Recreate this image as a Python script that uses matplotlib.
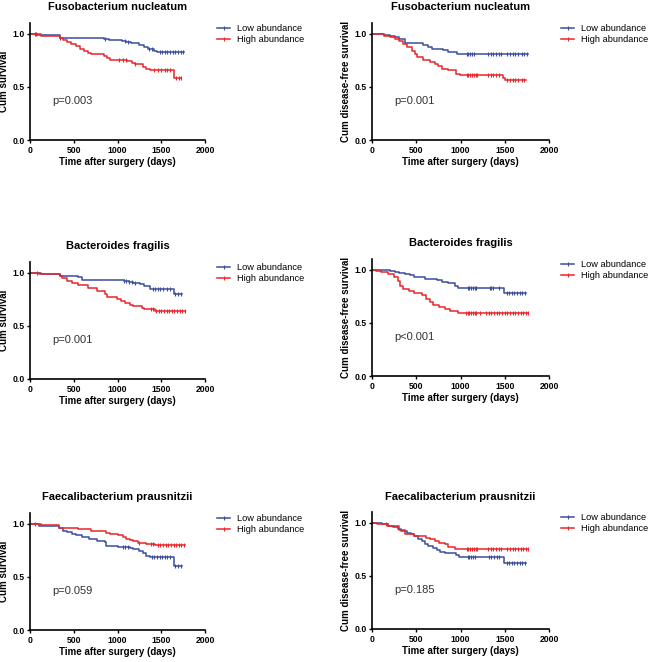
import numpy as np
import matplotlib.pyplot as plt
from matplotlib.lines import Line2D

plt.rcParams['font.family'] = ['Liberation Sans', 'DejaVu Sans']

# ---- data (time in days, survival after each event) ----
titles = ['Fusobacterium nucleatum', 'Fusobacterium nucleatum',
          'Bacteroides fragilis', 'Bacteroides fragilis',
          'Faecalibacterium prausnitzii', 'Faecalibacterium prausnitzii']
ylabels = ['Cum survival', 'Cum disease-free survival'] * 3
pvalues = ['p=0.003', 'p=0.001', 'p=0.001', 'p<0.001', 'p=0.059', 'p=0.185']
legend_labels = ['Low abundance', 'High abundance']

# Fusobacterium, overall survival
fn_os_low_t = [80, 340, 850, 900, 1050, 1100, 1150, 1250, 1300, 1350, 1420, 1450]
fn_os_low_s = [0.99, 0.955, 0.945, 0.94, 0.93, 0.92, 0.91, 0.89, 0.87, 0.855, 0.84, 0.83]
fn_os_low_c = [60, 340, 860, 1080, 1120, 1360, 1390, 1480, 1510, 1540, 1570, 1600, 1630, 1660, 1690, 1720, 1750]
fn_os_low_end = 1760
fn_os_high_t = [130, 340, 380, 420, 470, 520, 570, 620, 660, 700, 850, 880, 910, 1110, 1160, 1200, 1290, 1330, 1370, 1640]
fn_os_high_s = [0.98, 0.96, 0.94, 0.92, 0.90, 0.88, 0.86, 0.84, 0.82, 0.81, 0.79, 0.77, 0.755, 0.74, 0.72, 0.71, 0.69, 0.67, 0.655, 0.58]
fn_os_high_c = [70, 1020, 1060, 1100, 1200, 1420, 1460, 1500, 1540, 1570, 1600, 1670, 1700, 1730]
fn_os_high_end = 1730

# Fusobacterium, disease-free survival
fn_dfs_low_t = [140, 200, 260, 310, 370, 580, 630, 680, 800, 860, 960]
fn_dfs_low_s = [0.99, 0.98, 0.965, 0.95, 0.915, 0.895, 0.875, 0.86, 0.845, 0.825, 0.81]
fn_dfs_low_c = [1070, 1090, 1110, 1130, 1150, 1310, 1340, 1370, 1400, 1430, 1460, 1530, 1560, 1590, 1620, 1650, 1690, 1720, 1750]
fn_dfs_low_end = 1760
fn_dfs_high_t = [50, 140, 200, 260, 310, 350, 400, 450, 490, 510, 580, 650, 710, 750, 790, 860, 950, 990, 1480, 1500]
fn_dfs_high_s = [0.995, 0.98, 0.965, 0.95, 0.93, 0.90, 0.87, 0.84, 0.81, 0.78, 0.755, 0.73, 0.715, 0.70, 0.67, 0.66, 0.625, 0.61, 0.58, 0.56]
fn_dfs_high_c = [1070, 1090, 1110, 1130, 1150, 1170, 1190, 1310, 1340, 1370, 1400, 1430, 1530, 1560, 1590, 1620, 1650, 1690, 1720]
fn_dfs_high_end = 1740

# Bacteroides, overall survival
bf_os_low_t = [120, 340, 550, 590, 1070, 1130, 1180, 1260, 1300, 1370, 1645]
bf_os_low_s = [0.99, 0.97, 0.955, 0.935, 0.925, 0.915, 0.905, 0.89, 0.875, 0.85, 0.795]
bf_os_low_c = [80, 1070, 1100, 1130, 1160, 1200, 1400, 1430, 1460, 1490, 1520, 1560, 1600, 1660, 1690, 1720]
bf_os_low_end = 1740
bf_os_high_t = [100, 340, 365, 420, 480, 550, 660, 760, 860, 880, 990, 1040, 1080, 1140, 1180, 1280, 1300, 1430]
bf_os_high_s = [0.985, 0.97, 0.95, 0.925, 0.90, 0.88, 0.86, 0.83, 0.80, 0.77, 0.75, 0.73, 0.715, 0.70, 0.685, 0.67, 0.655, 0.635]
bf_os_high_c = [1380, 1400, 1440, 1470, 1500, 1530, 1560, 1590, 1620, 1650, 1680, 1710, 1740, 1770]
bf_os_high_end = 1770

# Bacteroides, disease-free survival
bf_dfs_low_t = [200, 260, 310, 370, 430, 480, 600, 730, 790, 860, 940, 975, 1490]
bf_dfs_low_s = [0.99, 0.98, 0.97, 0.96, 0.95, 0.93, 0.915, 0.90, 0.885, 0.87, 0.85, 0.83, 0.78]
bf_dfs_low_c = [1080, 1100, 1120, 1140, 1160, 1180, 1330, 1350, 1370, 1440, 1520, 1550, 1580, 1610, 1640, 1670, 1700, 1730]
bf_dfs_low_end = 1745
bf_dfs_high_t = [50, 100, 180, 250, 290, 320, 350, 420, 480, 560, 610, 650, 690, 760, 820, 880, 975]
bf_dfs_high_s = [0.99, 0.975, 0.955, 0.93, 0.895, 0.85, 0.82, 0.80, 0.78, 0.76, 0.725, 0.70, 0.67, 0.65, 0.63, 0.61, 0.59]
bf_dfs_high_c = [1060, 1080, 1100, 1120, 1140, 1160, 1180, 1220, 1290, 1320, 1350, 1380, 1410, 1440, 1470, 1500, 1530, 1560, 1590, 1620, 1650, 1680, 1710, 1740, 1760]
bf_dfs_high_end = 1765

# Faecalibacterium, overall survival
fp_os_low_t = [100, 330, 380, 420, 480, 530, 590, 670, 760, 860, 870, 1010, 1140, 1180, 1240, 1290, 1330, 1370, 1640]
fp_os_low_s = [0.98, 0.96, 0.935, 0.92, 0.905, 0.89, 0.87, 0.855, 0.84, 0.825, 0.79, 0.78, 0.77, 0.76, 0.745, 0.725, 0.70, 0.685, 0.60]
fp_os_low_c = [1060, 1090, 1120, 1390, 1420, 1450, 1480, 1510, 1540, 1570, 1600, 1660, 1690, 1720]
fp_os_low_end = 1740
fp_os_high_t = [120, 330, 550, 700, 870, 910, 1010, 1060, 1100, 1140, 1180, 1235, 1330, 1430]
fp_os_high_s = [0.985, 0.96, 0.95, 0.93, 0.915, 0.905, 0.89, 0.875, 0.86, 0.85, 0.835, 0.82, 0.81, 0.80]
fp_os_high_c = [60, 1250, 1380, 1400, 1460, 1490, 1520, 1550, 1580, 1610, 1640, 1670, 1700, 1730, 1760]
fp_os_high_end = 1770

# Faecalibacterium, disease-free survival
fp_dfs_low_t = [50, 110, 180, 240, 290, 330, 390, 440, 480, 520, 560, 600, 630, 690, 740, 770, 820, 950, 980, 1490]
fp_dfs_low_s = [0.995, 0.985, 0.97, 0.96, 0.94, 0.925, 0.905, 0.89, 0.87, 0.85, 0.825, 0.80, 0.78, 0.76, 0.74, 0.725, 0.71, 0.695, 0.68, 0.62]
fp_dfs_low_c = [1080, 1100, 1120, 1140, 1160, 1320, 1350, 1380, 1410, 1440, 1520, 1550, 1580, 1610, 1640, 1670, 1700, 1730]
fp_dfs_low_end = 1745
fp_dfs_high_t = [60, 180, 310, 370, 470, 610, 650, 710, 760, 820, 860, 940]
fp_dfs_high_s = [0.99, 0.965, 0.93, 0.89, 0.875, 0.86, 0.845, 0.83, 0.81, 0.795, 0.77, 0.75]
fp_dfs_high_c = [160, 1070, 1090, 1110, 1130, 1150, 1170, 1190, 1310, 1340, 1370, 1400, 1430, 1460, 1530, 1560, 1590, 1620, 1650, 1680, 1710, 1740, 1760]
fp_dfs_high_end = 1765

panels = [
    ((fn_os_low_t, fn_os_low_s, fn_os_low_c, fn_os_low_end),
     (fn_os_high_t, fn_os_high_s, fn_os_high_c, fn_os_high_end)),
    ((fn_dfs_low_t, fn_dfs_low_s, fn_dfs_low_c, fn_dfs_low_end),
     (fn_dfs_high_t, fn_dfs_high_s, fn_dfs_high_c, fn_dfs_high_end)),
    ((bf_os_low_t, bf_os_low_s, bf_os_low_c, bf_os_low_end),
     (bf_os_high_t, bf_os_high_s, bf_os_high_c, bf_os_high_end)),
    ((bf_dfs_low_t, bf_dfs_low_s, bf_dfs_low_c, bf_dfs_low_end),
     (bf_dfs_high_t, bf_dfs_high_s, bf_dfs_high_c, bf_dfs_high_end)),
    ((fp_os_low_t, fp_os_low_s, fp_os_low_c, fp_os_low_end),
     (fp_os_high_t, fp_os_high_s, fp_os_high_c, fp_os_high_end)),
    ((fp_dfs_low_t, fp_dfs_low_s, fp_dfs_low_c, fp_dfs_low_end),
     (fp_dfs_high_t, fp_dfs_high_s, fp_dfs_high_c, fp_dfs_high_end)),
]

colors = ['#3a4e9c', '#e8262b']

# axes boxes in figure fractions [left, bottom, width, height]
W, H = 650, 662
boxes = [
    [30 / W, 1 - 140 / H, 175 / W, 117 / H],
    [372 / W, 1 - 140 / H, 177 / W, 117 / H],
    [30 / W, 1 - 379 / H, 175 / W, 117 / H],
    [372 / W, 1 - 376 / H, 177 / W, 117 / H],
    [30 / W, 1 - 630 / H, 175 / W, 117 / H],
    [372 / W, 1 - 629 / H, 177 / W, 117 / H],
]


def km_curve(ax, t, s, c, end, color):
    x = np.array([0] + list(t) + [end])
    y = np.array([1.0] + list(s) + [s[-1]])
    ax.plot(x, y, drawstyle='steps-post', color=color, lw=1.1)
    # censored observations
    idx = np.searchsorted(x, c, side='right') - 1
    ax.plot(c, y[idx], linestyle='none', marker='|', markersize=3.2,
            markeredgewidth=0.8, color=color)


fig = plt.figure(figsize=(6.5, 6.62), dpi=100)

for i, (box, curves) in enumerate(zip(boxes, panels)):
    ax = fig.add_axes(box)
    for (t, s, c, end), col in zip(curves, colors):
        km_curve(ax, t, s, c, end, col)

    ax.set_xlim(0, 2000)
    ax.set_ylim(0, 1.1)
    ax.set_xticks([0, 500, 1000, 1500, 2000])
    ax.set_yticks([0.0, 0.5, 1.0])
    ax.set_yticklabels(['0.0', '0.5', '1.0'])
    for sp in ['top', 'right']:
        ax.spines[sp].set_visible(False)
    for sp in ['left', 'bottom']:
        ax.spines[sp].set_linewidth(1.2)
    ax.tick_params(length=2.5, width=1, labelsize=6.2, pad=1.5)
    for lab in ax.get_xticklabels() + ax.get_yticklabels():
        lab.set_fontweight('bold')

    ax.set_title(titles[i], fontsize=8, fontweight='bold', pad=9)
    ax.set_ylabel(ylabels[i], fontsize=7, fontweight='bold', labelpad=2)
    ax.set_xlabel('Time after surgery (days)', fontsize=7, fontweight='bold', labelpad=2)
    ax.text(250, 0.37, pvalues[i], fontsize=8, color='#333333', va='center')

    handles = [Line2D([], [], color=col, lw=1.1, marker='|', markersize=3.2,
                      markeredgewidth=0.8) for col in colors]
    ax.legend(handles, legend_labels, loc='upper left', bbox_to_anchor=(1.07, 0.99),
              frameon=False, fontsize=6.7, handlelength=1.4, handletextpad=0.7,
              labelspacing=0.25, borderpad=0, borderaxespad=0)

plt.savefig('out.png', dpi=100)
